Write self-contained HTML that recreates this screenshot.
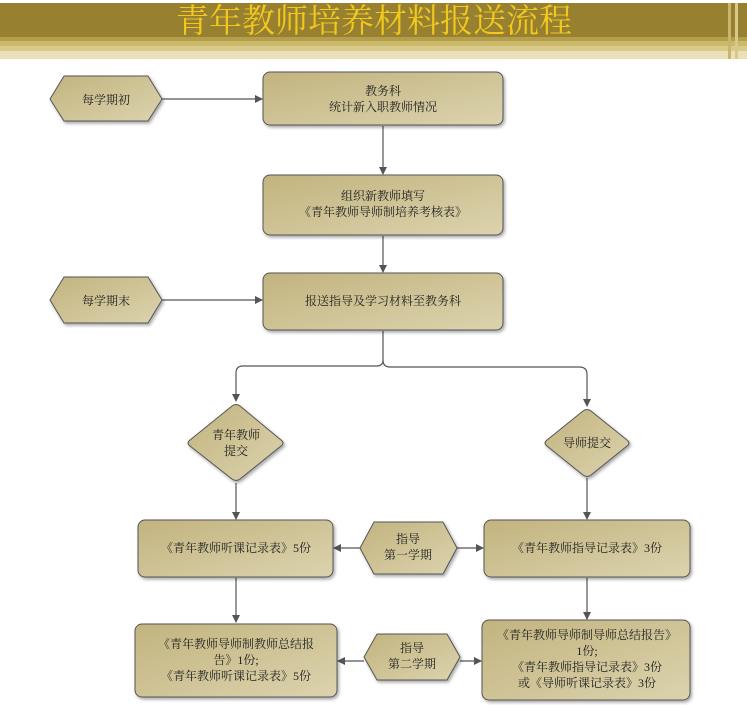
<!DOCTYPE html>
<html><head><meta charset="utf-8"><style>
html,body{margin:0;padding:0;background:#fff;}
svg{display:block;}
text{font-family:"Liberation Serif","Noto Serif CJK SC",serif;font-size:12px;fill:#222;text-anchor:middle;}
</style></head><body>
<svg width="747" height="705" viewBox="0 0 747 705" xmlns="http://www.w3.org/2000/svg">
<defs>
<linearGradient id="g" x1="0" y1="0" x2="1" y2="1">
<stop offset="0" stop-color="#c2b47f"/><stop offset="1" stop-color="#dcd3ae"/>
</linearGradient>
<marker id="a" markerWidth="8" markerHeight="8" refX="7" refY="4" orient="auto" markerUnits="userSpaceOnUse">
<path d="M0,0 L8,4 L0,8 z" fill="#555"/></marker>
<filter id="s" x="-10%" y="-10%" width="130%" height="140%"><feDropShadow dx="1.5" dy="2" stdDeviation="1.5" flood-color="#000" flood-opacity="0.35"/></filter>
</defs>
<rect x="0" y="3" width="747" height="34" fill="#97802f"/>
<rect x="0" y="37" width="747" height="4" fill="#b39e4c"/>
<rect x="0" y="41" width="747" height="5" fill="#cdb96a"/>
<rect x="0" y="46" width="747" height="5" fill="#d9c98a"/>
<rect x="0" y="51" width="747" height="8" fill="#ebe1b8"/>
<rect x="728" y="3" width="3" height="56" fill="#c9b66a"/>
<rect x="735" y="3" width="3" height="56" fill="#d8c88a"/>
<text x="374" y="32" style="font-size:33px;fill:#f2c81e">青年教师培养材料报送流程</text>

<g stroke="#555" stroke-width="1.2" fill="none">
<line x1="162" y1="99" x2="262" y2="99" marker-end="url(#a)"/>
<line x1="383" y1="126" x2="383" y2="174" marker-end="url(#a)"/>
<line x1="383" y1="236" x2="383" y2="272" marker-end="url(#a)"/>
<line x1="162" y1="300" x2="262" y2="300" marker-end="url(#a)"/>
<path d="M383,331 V360 Q383,366 377,366 H243 Q236,366 236,373 V401" marker-end="url(#a)"/>
<path d="M383,360 Q383,367 390,367 H579 Q587,367 587,374 V406" marker-end="url(#a)"/>
<line x1="236" y1="483" x2="236" y2="519" marker-end="url(#a)"/>
<line x1="587" y1="478" x2="587" y2="519" marker-end="url(#a)"/>
<line x1="360" y1="548" x2="334" y2="548" marker-end="url(#a)"/>
<line x1="457" y1="548" x2="483" y2="548" marker-end="url(#a)"/>
<line x1="236" y1="578" x2="236" y2="622" marker-end="url(#a)"/>
<line x1="587" y1="578" x2="587" y2="619" marker-end="url(#a)"/>
<line x1="364" y1="661" x2="338" y2="661" marker-end="url(#a)"/>
<line x1="460" y1="661" x2="481" y2="661" marker-end="url(#a)"/>
</g>

<g fill="url(#g)" stroke="#555" stroke-width="1" stroke-linejoin="round" filter="url(#s)">
<polygon points="50,99 64,76 148,76 162,99 148,121 64,121"/>
<polygon points="50,300 64,277 148,277 162,300 148,323 64,323"/>
<rect x="263" y="72" width="240" height="53" rx="7"/>
<rect x="263" y="175" width="240" height="60" rx="7"/>
<rect x="263" y="273" width="240" height="57" rx="7"/>
<path d="M232,406 Q236,403 240,406 L281,440 Q285,443 281,446 L240,479 Q236,482 232,479 L190,446 Q186,443 190,440 Z"/>
<path d="M583,411 Q587,408 591,411 L627,440 Q631,443 627,446 L591,475 Q587,478 583,475 L547,446 Q543,443 547,440 Z"/>
<rect x="138" y="520" width="195" height="57" rx="7"/>
<rect x="484" y="520" width="206" height="57" rx="7"/>
<polygon points="360,548 374,522 443,522 457,548 443,574 374,574"/>
<rect x="135" y="624" width="202" height="73" rx="7"/>
<rect x="482" y="620" width="208" height="80" rx="7"/>
<polygon points="364,657 377,634 447,634 460,657 447,680 377,680"/>
</g>

<text x="106" y="104">每学期初</text>
<text x="106" y="305">每学期末</text>
<text x="383" y="95">教务科</text>
<text x="383" y="111">统计新入职教师情况</text>
<text x="383" y="200">组织新教师填写</text>
<text x="383" y="216">《青年教师导师制培养考核表》</text>
<text x="383" y="305">报送指导及学习材料至教务科</text>
<text x="236" y="439">青年教师</text>
<text x="236" y="455">提交</text>
<text x="587" y="447">导师提交</text>
<text x="236" y="552">《青年教师听课记录表》5份</text>
<text x="587" y="552">《青年教师指导记录表》3份</text>
<text x="408" y="543">指导</text>
<text x="408" y="559">第一学期</text>
<text x="236" y="648">《青年教师导师制教师总结报</text>
<text x="236" y="664">告》1份;</text>
<text x="236" y="680">《青年教师听课记录表》5份</text>
<text x="412" y="652">指导</text>
<text x="412" y="668">第二学期</text>
<text x="587" y="639">《青年教师导师制导师总结报告》</text>
<text x="587" y="655">1份;</text>
<text x="587" y="671">《青年教师指导记录表》3份</text>
<text x="587" y="687">或《导师听课记录表》3份</text>
</svg>
</body></html>
